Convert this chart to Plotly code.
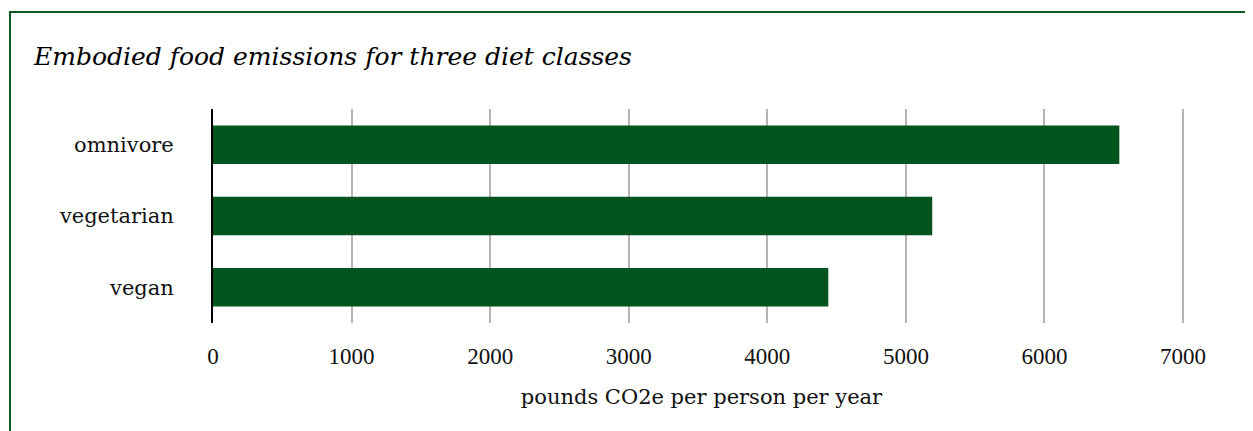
import plotly.graph_objects as go

diets = ['omnivore', 'vegetarian', 'vegan']
emissions = [6540, 5190, 4440]
x_ticks = [0, 1000, 2000, 3000, 4000, 5000, 6000, 7000]

GREEN = '#03541F'
FONT = 'DejaVu Serif'
TEXT = '#111'

# page body adds ~8px offset, so pixel targets below are shifted by 8
PLOT_L, PLOT_R, PLOT_T, PLOT_B = 205, 1182, 101, 315

fig = go.Figure()
fig.add_trace(go.Bar(
    x=emissions,
    y=diets,
    orientation='h',
    marker=dict(color=GREEN, line=dict(width=0)),
    showlegend=False
))

fig.update_layout(
    width=1253,
    height=431,
    plot_bgcolor='white',
    paper_bgcolor='white',
    margin=dict(l=PLOT_L, r=1253 - PLOT_R, t=PLOT_T, b=431 - PLOT_B),
    bargap=0.46,
    font=dict(family=FONT, size=20, color=TEXT),
    title=dict(
        text='<i>Embodied food emissions for three diet classes</i>',
        font=dict(family=FONT, size=25, color='black'),
        x=26 / 1253, xref='container', xanchor='left',
        y=1 - 48 / 431, yref='container', yanchor='middle',
    ),
)

fig.update_xaxes(
    range=[0, 7050],
    tickvals=x_ticks,
    showgrid=True,
    gridcolor='#b4b4b4',
    gridwidth=2,
    zeroline=False,
    showline=False,
    ticks='',
    ticklabelstandoff=17,
    tickfont=dict(family='Liberation Serif', size=23, color=TEXT),
    title=dict(text='pounds CO2e per person per year',
               font=dict(family=FONT, size=21, color=TEXT), standoff=21),
)
fig.update_yaxes(
    autorange='reversed',
    showgrid=False,
    showline=True,
    linecolor='black',
    linewidth=2,
    ticks='',
    ticklabelstandoff=33,
    tickfont=dict(family=FONT, size=21, color=TEXT),
)

# dark green frame around the figure
pw, ph = PLOT_R - PLOT_L, PLOT_B - PLOT_T
fig.add_shape(
    type='rect', xref='paper', yref='paper',
    x0=(2 - PLOT_L) / pw, x1=(1243 - PLOT_L) / pw,
    y0=-0.7, y1=(PLOT_B - 4) / ph,
    line=dict(color='#0B5A1F', width=2),
    fillcolor='rgba(0,0,0,0)', layer='below'
)

fig.write_html('out.html')
